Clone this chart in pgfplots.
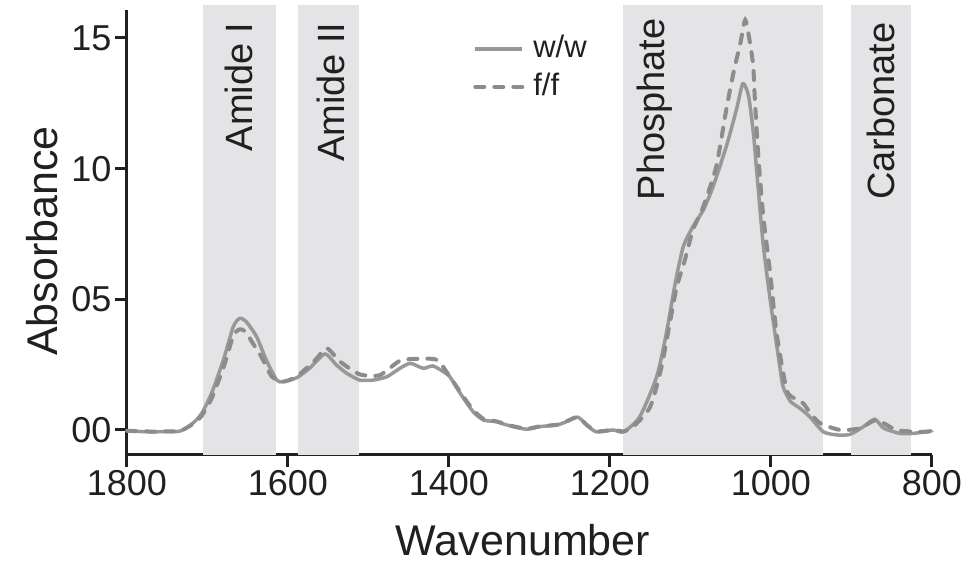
\documentclass[border=0pt]{standalone}
\usepackage{pgfplots}
\pgfplotsset{compat=1.18}
\usepackage{fontspec}
\setmainfont{Liberation Sans}
\definecolor{shade}{RGB}{228,228,230}
\definecolor{lw}{RGB}{152,152,152}
\definecolor{lf}{RGB}{140,140,140}
\definecolor{ink}{RGB}{35,31,32}
\begin{document}
\begin{tikzpicture}
\useasboundingbox (-127pt,-112pt) rectangle (843pt,455pt);
\begin{axis}[
  at={(0,0)}, anchor=south west,
  scale only axis, width=805pt, height=445pt,
  x dir=reverse,
  xmin=800, xmax=1800, ymin=-0.957, ymax=16.07,
  clip=false,
  axis lines=left,
  axis line style={-, line width=3pt, ink},
  tick style={line width=3pt, ink},
  tick align=outside, major tick length=12pt,
  xtick={800,1000,1200,1400,1600,1800},
  xticklabels={800,1000,1200,1400,1600,1800},
  ytick={0,5,10,15},
  yticklabels={00,05,10,15},
  /pgf/number format/assume math mode=true,
  ticklabel style={font=\fontsize{36}{40}\selectfont, text=ink},
  xlabel={Wavenumber}, ylabel={Absorbance},
  label style={font=\fontsize{43}{48}\selectfont, text=ink},
  xlabel style={at={(axis description cs:0.492,0)}, anchor=base, yshift=-101pt},
  ylabel style={at={([xshift=-69pt]axis description cs:0,0.481)}, anchor=base},
  legend style={at={(0.43,0.95)}, anchor=north west, draw=none, fill=none,
    font=\fontsize{31}{34}\selectfont, text=ink, inner sep=0pt,
    nodes={text height=23pt, text depth=6pt, inner sep=2pt}, row sep=5pt,
    /tikz/every odd column/.append style={column sep=7pt}},
  legend cell align=left,
  legend image code/.code={\draw[#1] (0pt,0pt) -- (47pt,0pt);},
]
% shaded regions
\addplot[draw=none, fill=shade, forget plot] coordinates {(1706,-0.957) (1615,-0.957) (1615,16.25) (1706,16.25)} -- cycle;
\addplot[draw=none, fill=shade, forget plot] coordinates {(1588,-0.957) (1512,-0.957) (1512,16.25) (1588,16.25)} -- cycle;
\addplot[draw=none, fill=shade, forget plot] coordinates {(1184,-0.957) (935,-0.957) (935,16.25) (1184,16.25)} -- cycle;
\addplot[draw=none, fill=shade, forget plot] coordinates {(901,-0.957) (826,-0.957) (826,16.25) (901,16.25)} -- cycle;

\addplot[lw, line width=3.5pt, smooth, tension=0.4] coordinates {
(1800,-0.04) (1770,-0.07) (1750,-0.06) (1735,-0.05) (1725,0.1) (1715,0.35)
(1707,0.64) (1695,1.4) (1680,2.7) (1668,3.95) (1660,4.27) (1652,4.15)
(1639,3.57) (1627,2.68) (1614,1.91) (1606,1.85) (1589,2.0) (1573,2.37)
(1554,2.91) (1540,2.49) (1527,2.17) (1511,1.91) (1494,1.91) (1477,2.04)
(1461,2.36) (1448,2.55) (1432,2.36) (1420,2.45) (1407,2.23) (1399,2.04)
(1386,1.40) (1370,0.70) (1357,0.38) (1341,0.32) (1328,0.19) (1304,0.03)
(1287,0.13) (1266,0.19) (1254,0.32) (1240,0.49) (1229,0.19) (1217,-0.07)
(1196,0.0) (1183,-0.07) (1163,0.51) (1142,2.04) (1130,3.7) (1119,5.61)
(1109,7.01) (1097,7.78) (1084,8.42) (1072,9.31) (1055,10.9) (1043,12.25)
(1035,13.25) (1028,12.8) (1022,11.4) (1018,10.0) (1010,7.2) (1001,4.98)
(989,2.42) (985,1.66) (976,1.1) (964,0.83) (952,0.51) (935,-0.07)
(918,-0.19) (902,-0.17) (885,0.13) (871,0.41) (860,0.07) (840,-0.13)
(823,-0.13) (802,-0.04) (800,-0.02)
};
\addlegendentry{w/w}
\addplot[lf, line width=4pt, line cap=round, dash pattern=on 9pt off 10pt, smooth, tension=0.4] coordinates {
(1800,-0.03) (1770,-0.06) (1750,-0.05) (1735,-0.04) (1725,0.1) (1715,0.3)
(1707,0.55) (1695,1.2) (1680,2.4) (1668,3.6) (1660,3.85) (1652,3.75)
(1645,3.38) (1633,2.8) (1620,2.04) (1606,1.85) (1589,2.05) (1566,2.68)
(1552,3.13) (1535,2.61) (1511,2.13) (1486,2.1) (1461,2.65) (1440,2.72)
(1415,2.68) (1399,2.04) (1382,1.27) (1370,0.77) (1357,0.42) (1341,0.33)
(1328,0.2) (1304,0.05) (1287,0.14) (1266,0.2) (1254,0.33) (1240,0.5)
(1229,0.2) (1217,-0.05) (1196,0.0) (1183,-0.05) (1171,0.13) (1150,0.89)
(1136,2.42) (1125,4.21) (1117,5.48) (1107,6.5) (1097,7.65) (1084,8.55)
(1068,10.08) (1057,12.0) (1051,13.0) (1045,13.9) (1038,14.8) (1032,15.69)
(1026,14.8) (1022,13.9) (1020,12.63) (1016,10.6) (1010,8.3) (1001,6.0)
(993,3.7) (980.5,1.53) (970,1.2) (960,1.02) (950,0.6) (939,0.26)
(914,0.0) (889,0.07) (869,0.38) (844,0.0) (815,-0.07) (800,-0.05)
};
\addlegendentry{f/f}

\node[rotate=90, anchor=base east, font=\fontsize{38}{40}\selectfont, text=ink, inner sep=0pt] at (axis cs:1643.5,15.6) {Amide I};
\node[rotate=90, anchor=base east, font=\fontsize{38}{40}\selectfont, text=ink, inner sep=0pt] at (axis cs:1530,15.6) {Amide II};
\node[rotate=90, anchor=base east, font=\fontsize{38}{40}\selectfont, text=ink, inner sep=0pt] at (axis cs:1132,15.75) {Phosphate};
\node[rotate=90, anchor=base east, font=\fontsize{38}{40}\selectfont, text=ink, inner sep=0pt] at (axis cs:847,15.6) {Carbonate};
\end{axis}
\end{tikzpicture}
\end{document}
